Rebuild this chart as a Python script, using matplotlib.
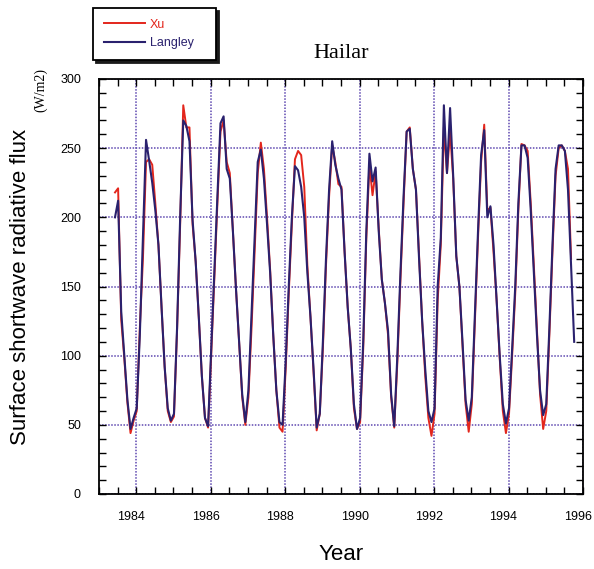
import numpy as np
import matplotlib.pyplot as plt
import matplotlib.transforms as mtransforms
from matplotlib.ticker import MultipleLocator

# monthly series, first value = June 1983
START_YEAR = 1983.43

langley = [
    200, 212, 132, 100, 68, 47, 55,                                 # 1983 Jun-Dec
    62, 115, 185, 256, 241, 225, 205, 180, 135, 92, 62, 53,         # 1984
    58, 120, 200, 270, 266, 255, 198, 168, 128, 85, 55, 49,         # 1985
    105, 160, 215, 268, 273, 235, 228, 190, 148, 110, 72, 52,       # 1986
    75, 130, 185, 240, 249, 228, 195, 160, 115, 75, 52, 50,         # 1987
    95, 150, 200, 237, 234, 222, 200, 160, 128, 90, 48, 58,         # 1988
    110, 170, 220, 255, 238, 228, 220, 175, 135, 105, 65, 47,       # 1989
    55, 110, 190, 246, 226, 236, 190, 155, 138, 118, 72, 49,        # 1990
    100, 160, 215, 262, 264, 235, 220, 170, 125, 90, 60, 52,        # 1991
    62, 150, 185, 281, 232, 279, 230, 172, 150, 110, 68, 53,        # 1992
    70, 130, 190, 245, 263, 200, 208, 180, 140, 100, 65, 51,        # 1993
    62, 105, 150, 210, 252, 252, 243, 205, 160, 115, 75, 57,        # 1994
    65, 120, 180, 235, 252, 252, 248, 220, 165, 110,                # 1995 Jan-Oct
]

xu = [
    218, 221, 126, 98, 66, 44, 53,                                  # 1983 Jun-Dec
    60, 120, 170, 240, 242, 238, 210, 180, 135, 92, 60, 52,         # 1984
    56, 118, 195, 281, 265, 265, 195, 168, 128, 85, 55, 48,         # 1985
    100, 155, 210, 262, 270, 240, 232, 190, 148, 110, 70, 50,       # 1986
    70, 120, 175, 232, 254, 235, 200, 162, 115, 75, 48, 45,         # 1987
    90, 145, 195, 242, 248, 245, 222, 165, 128, 88, 46, 58,         # 1988
    105, 165, 215, 252, 240, 224, 222, 175, 135, 105, 62, 47,       # 1989
    52, 105, 185, 238, 216, 233, 192, 155, 138, 115, 70, 48,        # 1990
    95, 155, 210, 262, 265, 235, 220, 172, 125, 85, 55, 42,         # 1991
    58, 140, 180, 265, 232, 262, 228, 172, 150, 108, 65, 45,        # 1992
    65, 125, 185, 240, 267, 205, 207, 175, 140, 98, 60, 44,         # 1993
    58, 100, 145, 205, 253, 252, 248, 210, 165, 118, 72, 47,        # 1994
    60, 115, 175, 230, 250, 252, 248, 235, 170,                     # 1995 Jan-Sep
]

XU_COLOR = "#e3261c"
LANGLEY_COLOR = "#2a216e"
GRID_COLOR = "#5e48b0"

SANS = "Liberation Sans"
SERIF = "Liberation Serif"


def month_axis(values):
    return START_YEAR + np.arange(len(values)) / 12.0


def main():
    fig = plt.figure(figsize=(5.94, 5.69), dpi=100)
    ax = fig.add_axes([99 / 594, 75 / 569, 484 / 594, 415 / 569])

    ax.plot(month_axis(xu), xu, color=XU_COLOR, lw=1.4, label="Xu")
    ax.plot(month_axis(langley), langley, color=LANGLEY_COLOR, lw=1.5,
            label="Langley")

    ax.set_xlim(1983, 1996)
    ax.set_ylim(0, 300)
    ax.xaxis.set_major_locator(MultipleLocator(2))
    ax.xaxis.set_minor_locator(MultipleLocator(0.5))
    ax.yaxis.set_major_locator(MultipleLocator(50))
    ax.yaxis.set_minor_locator(MultipleLocator(10))

    ax.grid(True, which="major", color=GRID_COLOR, linestyle=(0, (1, 1)),
            lw=1.1)

    ax.tick_params(which="both", direction="in", top=True, right=True,
                   length=5, width=1.0, labelsize=9)
    ax.tick_params(axis="x", pad=12)
    ax.tick_params(axis="y", pad=13)
    for lab in ax.get_xticklabels() + ax.get_yticklabels():
        lab.set_fontfamily(SANS)

    # labels sit a little left of their gridline in the original
    shift = mtransforms.ScaledTranslation(-5 / 100, 0, fig.dpi_scale_trans)
    for lab in ax.get_xticklabels():
        lab.set_transform(lab.get_transform() + shift)

    for sp in ax.spines.values():
        sp.set_linewidth(1.3)

    ax.set_title("Hailar", fontfamily=SERIF, fontsize=16, pad=15)
    ax.set_xlabel("Year", fontfamily=SANS, fontsize=16)
    ax.set_ylabel("Surface shortwave radiative flux", fontfamily=SANS,
                  fontsize=16)
    ax.xaxis.set_label_coords(0.5, -0.12)
    ax.yaxis.set_label_coords(-0.141, 0.5)

    fig.text(41 / 594, 1 - 90 / 569, "(W/m2)", rotation=90, ha="center",
             va="center", fontfamily=SERIF, fontsize=10)

    leg = fig.legend(
        loc="upper left",
        bbox_to_anchor=(93 / 594, (569 - 58) / 569, 123 / 594, 50 / 569),
        mode="expand",
        borderaxespad=0,
        prop={"family": SANS, "size": 9},
        labelcolor="linecolor",
        handlelength=3.3,
        handletextpad=0.4,
        borderpad=0.85,
        labelspacing=0.5,
        fancybox=False,
        shadow={"ox": 2.5, "oy": -2.5, "color": "#1a1a1a", "alpha": 1.0},
        framealpha=1,
    )
    leg.get_frame().set_edgecolor("black")
    leg.get_frame().set_linewidth(1.3)

    plt.savefig("out.png", dpi=100)


if __name__ == "__main__":
    main()
